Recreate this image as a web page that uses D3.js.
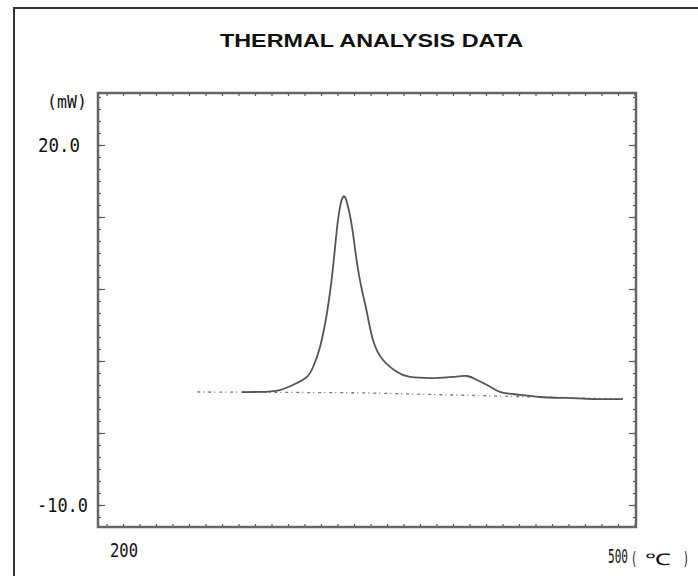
<!DOCTYPE html>
<html>
<head>
<meta charset="utf-8">
<script src="https://cdn.jsdelivr.net/npm/d3@7"></script>
<style>
  body { margin: 0; background: #fff; }
  text { fill: #111; }
</style>
</head>
<body>
<svg width="698" height="576"></svg>
<script>
// curve: temperature (°C) / heat flow (mW)
var temps = [272, 282, 295, 305.5, 311.5, 315.2, 319.4, 323.6, 327.3, 330.3, 333.3, 335.8, 338.8, 341.8, 344.8, 347.9, 351.5, 357.6, 366.1, 373.9, 387.9, 400, 408.5, 414.5, 420.6, 428.5, 436.4, 452.7, 469.1, 484.8, 503];
var power = [-0.6, -0.58, -0.42, 0.17, 0.67, 1.5, 3.17, 6.0, 9.83, 13.75, 15.67, 15.17, 13.17, 10.17, 7.92, 6.0, 3.75, 2.08, 1.08, 0.67, 0.58, 0.67, 0.75, 0.42, 0.0, -0.58, -0.75, -1.0, -1.08, -1.17, -1.17];

// dotted baseline
var baseTemps = [245, 344, 504];
var basePower = [-0.58, -0.65, -1.17];

var yTicks = [20, 14, 8, 2, -4, -10];
var yLabels = ["20.0", "-10.0"];
var xLabels = ["200", "500"];

var svg = d3.select("svg");

var x = d3.scaleLinear().domain([200, 500]).range([123, 618]);
var y = d3.scaleLinear().domain([-10, 20]).range([505, 145]);

var frame = { left: 98, top: 93, right: 636, bottom: 527 };

// outer border of the page
svg.append("rect")
  .attr("x", 14).attr("y", 8)
  .attr("width", 700).attr("height", 600)
  .attr("fill", "none")
  .attr("stroke", "#333")
  .attr("stroke-width", 2);

// title
svg.append("text")
  .attr("x", 220).attr("y", 47)
  .attr("font-family", "Liberation Sans, Arial, sans-serif")
  .attr("font-weight", "bold")
  .attr("font-size", 18)
  .attr("textLength", 303)
  .attr("lengthAdjust", "spacingAndGlyphs")
  .text("THERMAL ANALYSIS DATA");

// minor ticks (every 1 mW / every 10 °C), inward
var yMinor = d3.range(-11, 25, 1).filter(function (d) { return y(d) > frame.top && y(d) < frame.bottom; });
var xMinor = d3.range(190, 511, 10).filter(function (d) { return x(d) > frame.left && x(d) < frame.right; });

var g = svg.append("g");

g.append("g")
  .attr("transform", "translate(" + frame.left + ",0)")
  .call(d3.axisRight(y).tickValues(yMinor).tickSize(3).tickFormat(""));
g.append("g")
  .attr("transform", "translate(" + frame.right + ",0)")
  .call(d3.axisLeft(y).tickValues(yMinor).tickSize(3).tickFormat(""));
g.append("g")
  .attr("transform", "translate(" + frame.left + ",0)")
  .call(d3.axisRight(y).tickValues(yTicks).tickSize(7).tickFormat(""));
g.append("g")
  .attr("transform", "translate(" + frame.right + ",0)")
  .call(d3.axisLeft(y).tickValues(yTicks).tickSize(7).tickFormat(""));
g.append("g")
  .attr("transform", "translate(0," + frame.top + ")")
  .call(d3.axisBottom(x).tickValues(xMinor).tickSize(3).tickFormat(""));
g.append("g")
  .attr("transform", "translate(0," + frame.bottom + ")")
  .call(d3.axisTop(x).tickValues(xMinor).tickSize(3).tickFormat(""));

g.selectAll(".domain").remove();
g.selectAll("line").attr("stroke", "#555").attr("stroke-width", 1.2);

// plot frame
svg.append("rect")
  .attr("x", frame.left).attr("y", frame.top)
  .attr("width", frame.right - frame.left)
  .attr("height", frame.bottom - frame.top)
  .attr("fill", "none")
  .attr("stroke", "#666")
  .attr("stroke-width", 2.5);

// labels (narrow monospaced look of the instrument printout):
// squeeze each one horizontally to the width it has in the printout
var mono = "DejaVu Sans Mono, monospace";

function label(txt, x0, y0, size, len) {
  var t = svg.append("text")
    .attr("font-family", mono).attr("font-size", size)
    .text(txt);
  var w = t.node().getComputedTextLength();
  var sx = len ? len / w : 1;
  t.attr("transform", "translate(" + x0 + "," + y0 + ") scale(" + sx + ",1)");
  return t;
}

label("(mW)", 47, 108, 17, 40);
label(yLabels[0], 38, y(+yLabels[0]) + 7, 20, 42);
label(yLabels[1], 37, y(+yLabels[1]) + 7, 20, 51);
label(xLabels[0], x(+xLabels[0]) - 13, 557, 19, 28);
label(xLabels[1], x(+xLabels[1]) - 10, 563, 19, 20);
label("(", 631, 565, 17, 6);
label("℃", 645, 565, 16, 26);
label(")", 683, 565, 17, 6);

// baseline
var baseData = baseTemps.map(function (t, i) { return [t, basePower[i]]; });
svg.append("path")
  .datum(baseData)
  .attr("fill", "none")
  .attr("stroke", "#777")
  .attr("stroke-width", 1.3)
  .attr("stroke-dasharray", "3,3,1,4")
  .attr("d", d3.line().x(function (d) { return x(d[0]); }).y(function (d) { return y(d[1]); }));

// DSC curve
var data = temps.map(function (t, i) { return [t, power[i]]; });
svg.append("path")
  .datum(data)
  .attr("fill", "none")
  .attr("stroke", "#555")
  .attr("stroke-width", 1.8)
  .attr("d", d3.line()
    .curve(d3.curveNatural)
    .x(function (d) { return x(d[0]); })
    .y(function (d) { return y(d[1]); }));
</script>
</body>
</html>
